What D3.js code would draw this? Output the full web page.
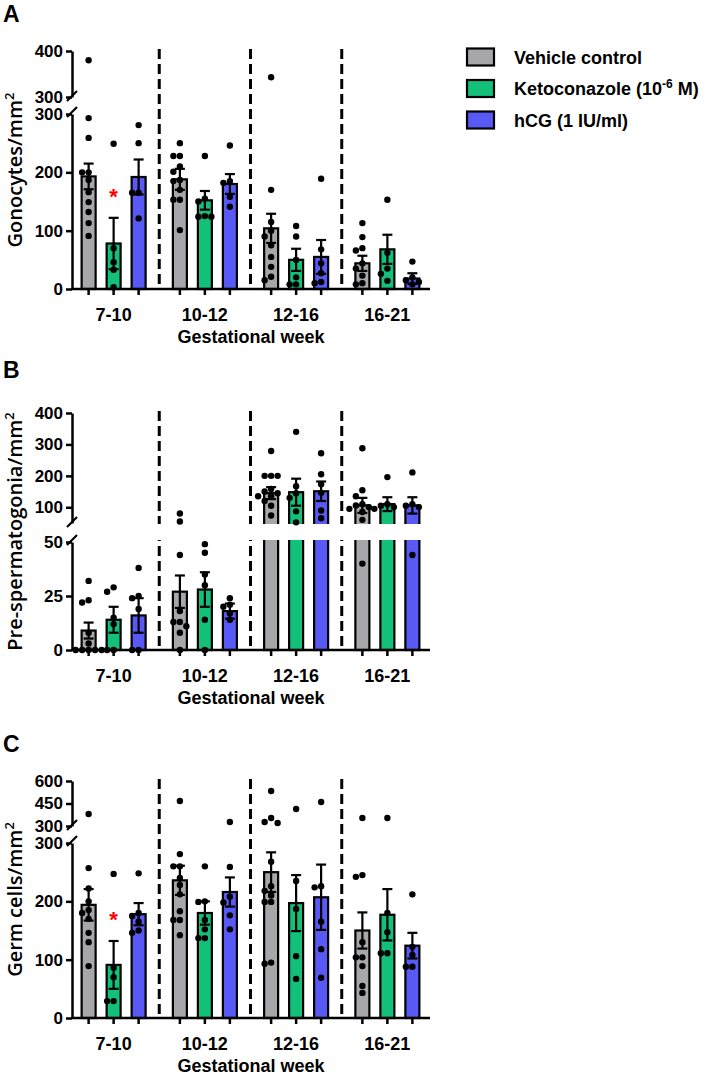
<!DOCTYPE html>
<html><head><meta charset="utf-8">
<script src="https://cdn.jsdelivr.net/npm/d3@7"></script>
<style>body{margin:0;background:#fff}</style>
</head><body>
<svg id="chart" width="708" height="1076"></svg>
<script>
// ---------- data ----------
const groups = ["7-10", "10-12", "12-16", "16-21"];
const seriesNames = ["Vehicle control", "Ketoconazole (10-6 M)", "hCG (1 IU/ml)"];
const seriesColors = ["#a7a7aa", "#12c07a", "#5959f5"];
const xTitle = "Gestational week";

// Panel A: Gonocytes/mm2  (rows = series, cols = groups)
const gonMean = [[193, 188, 104, 44], [78, 152, 50, 68], [192, 180, 55, 18]];
const gonSem  = [[22, 18, 25, 13], [44, 16, 19, 25], [30, 17, 29, 9]];
const gonPtsVehicle = [[380,293,259,200,200,187,166,149,132,113,91],[250,228,228,210,201,187,185,170,153,153,101],[343,170,115,100,90,75,55,38,21,15],[113,89,70,66,44,35,23,10,8]];
const gonPtsKeto    = [[249,70,46,33,3],[228,155,150,125,124,124],[108,90,50,20,8,8],[153,62,35,26,14]];
const gonPtsHcg     = [[281,250,165,165,121],[246,185,182,158,141],[189,68,44,27,12,10],[47,20,15,12,8]];
const gonTicksLow = [0, 100, 200, 300];
const gonTicksUp  = [300, 400];

// Panel B: Pre-spermatogonia/mm2
const preMean = [[9, 27, 145, 106], [14, 28, 148, 110], [16, 18, 151, 106]];
const preSem  = [[3.7, 7.5, 19, 24], [6, 8, 43, 22], [8, 3.5, 31, 26]];
const prePtsVehicle = [[32,23,22,8,3,0,0,0,0,0],[80,55,44,18,13,13,11,8,0],[279,200,200,200,158,150,145,135,135,120,105,74],[288,154,135,110,106,100,95,85,60,40]];
const prePtsKeto    = [[29,27,15,12,0,0],[49,45,35,30,14,0],[340,167,145,130,87,52],[196,110,105,100,95]];
const prePtsHcg     = [[38,25,24,19,0,0],[24,21,20,17,14],[272,205,173,146,90,65],[211,110,105,100,44]];
const preTicksLow = [0, 25, 50];
const preTicksUp  = [100, 200, 300, 400];

// Panel C: Germ cells/mm2
const germMean = [[194, 236, 250, 150], [91, 180, 197, 177], [178, 216, 207, 124]];
const germSem  = [[27, 25, 34, 31], [41, 20, 48, 44], [19, 25, 56, 22]];
const germPtsVehicle = [[380,257,222,200,185,180,170,146,130,89],[467,281,260,260,240,228,212,183,168,168,142],[533,353,327,320,268,226,218,210,199,199,95,93],[353,245,242,130,104,104,89,55,43]];
const germPtsKeto    = [[247,86,70,29,29],[260,200,199,168,152,137,137],[413,235,187,106,67],[353,180,147,111,111]];
const germPtsHcg     = [[248,180,175,165,150,146],[327,259,208,198,176,152],[460,226,224,165,118,69],[212,122,108,88,88]];
const germTicksLow = [0, 100, 200, 300];
const germTicksUp  = [300, 450, 600];

// significance markers (group, series index)
const sigA = [{group: "7-10", s: 1}];
const sigC = [{group: "7-10", s: 1}];

// ---------- layout ----------
const svg = d3.select("#chart");
const FONT = "'Liberation Sans', Arial, sans-serif";
const AX0 = 72, AX1 = 430;
const xGroup = d3.scaleBand().domain(groups).range([68, 433]);
const xSub = d3.scaleBand().domain([0, 1, 2]).range([-37.5, 37.5]);
const cx = (g, s) => xGroup(g) + xGroup.bandwidth() / 2 + xSub(s) + xSub.bandwidth() / 2;
const BARW = 14;

const panels = [
  {letter: "A", ly: 22, title: "Gonocytes/mm", mean: gonMean, sem: gonSem,
   pts: [gonPtsVehicle, gonPtsKeto, gonPtsHcg], low: [[0, 300], [289, 114]], up: [[300, 400], [97, 51]],
   tLow: gonTicksLow, tUp: gonTicksUp, gap: null, sig: sigA},
  {letter: "B", ly: 378, title: "Pre-spermatogonia/mm", mean: preMean, sem: preSem,
   pts: [prePtsVehicle, prePtsKeto, prePtsHcg], low: [[0, 50], [650, 542]], up: [[50, 400], [523, 413]],
   tLow: preTicksLow, tUp: preTicksUp, gap: [524, 540], sig: []},
  {letter: "C", ly: 752, title: "Germ cells/mm", mean: germMean, sem: germSem,
   pts: [germPtsVehicle, germPtsKeto, germPtsHcg], low: [[0, 300], [1018, 843]], up: [[300, 600], [826, 781]],
   tLow: germTicksLow, tUp: germTicksUp, gap: null, sig: sigC}
];

panels.forEach(p => {
  const g = svg.append("g");
  const yLow = d3.scaleLinear().domain(p.low[0]).range(p.low[1]);
  const yUp = d3.scaleLinear().domain(p.up[0]).range(p.up[1]);
  const y = v => v <= p.low[0][1] ? yLow(v) : yUp(v);
  const y0 = yLow(0), yTop = p.up[1][1];

  // panel letter
  g.append("text").attr("x", 3).attr("y", p.ly).text(p.letter)
    .attr("font-family", FONT).attr("font-weight", "bold").attr("font-size", 23);

  // dashed separators
  groups.slice(1).forEach(gr => {
    g.append("line").attr("x1", xGroup(gr)).attr("x2", xGroup(gr))
      .attr("y1", yTop - 2).attr("y2", y0)
      .attr("stroke", "#000").attr("stroke-width", 3).attr("stroke-dasharray", "10,5");
  });

  // bars
  p.mean.forEach((row, s) => row.forEach((m, gi) => {
    g.append("rect").attr("x", cx(groups[gi], s) - BARW / 2).attr("width", BARW)
      .attr("y", y(m)).attr("height", y0 - y(m))
      .attr("fill", seriesColors[s]).attr("stroke", "#000").attr("stroke-width", 2.2);
  }));

  // axis break gap across bars
  if (p.gap) {
    g.append("rect").attr("x", AX0 + 2).attr("width", AX1 - AX0 + 4)
      .attr("y", p.gap[0]).attr("height", p.gap[1] - p.gap[0]).attr("fill", "#fff");
  }

  // points (deterministic dodge of overlapping points)
  p.pts.forEach((sArr, s) => sArr.forEach((vals, gi) => {
    const c = cx(groups[gi], s);
    const placed = [];
    vals.slice().sort((a, b) => b - a).forEach(v => {
      const py = y(v);
      const offs = [0, -6.5, 6.5, -13, 13, -19.5, 19.5];
      let ox = 0;
      for (const o of offs) {
        if (!placed.some(q => Math.abs(q[1] - py) < 6 && Math.abs(q[0] - o) < 6)) { ox = o; break; }
      }
      placed.push([ox, py]);
      g.append("circle").attr("cx", c + ox).attr("cy", py).attr("r", 3.2).attr("fill", "#000");
    });
  }));

  // error bars
  p.mean.forEach((row, s) => row.forEach((m, gi) => {
    const c = cx(groups[gi], s), e = p.sem[s][gi];
    const yt = y(m + e), yb = y(m - e);
    g.append("line").attr("x1", c).attr("x2", c).attr("y1", yt).attr("y2", yb)
      .attr("stroke", "#000").attr("stroke-width", 2.2);
    [yt, yb].forEach(yy => g.append("line").attr("x1", c - 5).attr("x2", c + 5)
      .attr("y1", yy).attr("y2", yy).attr("stroke", "#000").attr("stroke-width", 2.2));
  }));

  // y axes (two segments)
  [[yLow, p.tLow], [yUp, p.tUp]].forEach(([sc, tv]) => {
    const ax = g.append("g").attr("transform", `translate(${AX0},0)`)
      .call(d3.axisLeft(sc).tickValues(tv).tickSize(6).tickSizeOuter(0).tickPadding(3));
    ax.select(".domain").attr("stroke-width", 2.5);
    ax.selectAll(".tick line").attr("stroke-width", 2.5);
    ax.selectAll(".tick text").attr("font-family", FONT).attr("font-weight", "bold")
      .attr("font-size", 17).attr("fill", "#000");
  });
  // break marks
  [p.up[1][0], p.low[1][1]].forEach((yy, i) => {
    const yc = i === 0 ? yy - 1 : yy - 2;
    g.append("line").attr("x1", AX0 - 5).attr("x2", AX0 + 5)
      .attr("y1", yc + 5).attr("y2", yc - 5).attr("stroke", "#000").attr("stroke-width", 2.2);
  });

  // x axis
  g.append("line").attr("x1", AX0 - 1).attr("x2", AX1).attr("y1", y0).attr("y2", y0)
    .attr("stroke", "#000").attr("stroke-width", 2.5);
  groups.forEach(gr => [0, 1, 2].forEach(s => {
    g.append("line").attr("x1", cx(gr, s)).attr("x2", cx(gr, s))
      .attr("y1", y0).attr("y2", y0 + 6).attr("stroke", "#000").attr("stroke-width", 2.5);
  }));
  groups.forEach(gr => {
    g.append("text").attr("x", xGroup(gr) + xGroup.bandwidth() / 2).attr("y", y0 + 32)
      .attr("text-anchor", "middle").attr("font-family", FONT).attr("font-weight", "bold")
      .attr("font-size", 18).text(gr);
  });
  g.append("text").attr("x", (AX0 + AX1) / 2).attr("y", y0 + 54).attr("text-anchor", "middle")
    .attr("font-family", FONT).attr("font-weight", "bold").attr("font-size", 18).text(xTitle);

  // y title
  const yc = (y0 + yTop) / 2;
  const t = g.append("text").attr("transform", `translate(22,${yc}) rotate(-90)`)
    .attr("text-anchor", "middle").attr("font-family", "'Open Sans', sans-serif")
    .attr("font-weight", 600).attr("font-size", 20);
  t.append("tspan").text(p.title);
  t.append("tspan").attr("dy", -8).attr("font-size", 13).text("2");

  // significance
  p.sig.forEach(d => {
    const m = p.mean[d.s][groups.indexOf(d.group)], e = p.sem[d.s][groups.indexOf(d.group)];
    g.append("text").attr("x", cx(d.group, d.s)).attr("y", y(m + e) - 14)
      .attr("text-anchor", "middle").attr("font-family", FONT).attr("font-weight", "bold")
      .attr("font-size", 22).attr("fill", "#ff0000").text("*");
  });
});

// legend
const leg = svg.append("g");
seriesNames.forEach((name, i) => {
  const yc = 57 + i * 31.5;
  leg.append("rect").attr("x", 467).attr("y", yc - 8.5).attr("width", 27).attr("height", 17)
    .attr("fill", seriesColors[i]).attr("stroke", "#000").attr("stroke-width", 2.2);
  const t = leg.append("text").attr("x", 514).attr("y", yc + 6.5)
    .attr("font-family", FONT).attr("font-weight", "bold").attr("font-size", 18);
  const m = name.match(/^(.*\(10)(-6)( M\))$/);
  if (m) {
    t.append("tspan").text(m[1]);
    t.append("tspan").attr("dy", -7).attr("font-size", 12).text(m[2]);
    t.append("tspan").attr("dy", 7).text(m[3]);
  } else {
    t.text(name);
  }
});
</script>
</body></html>
